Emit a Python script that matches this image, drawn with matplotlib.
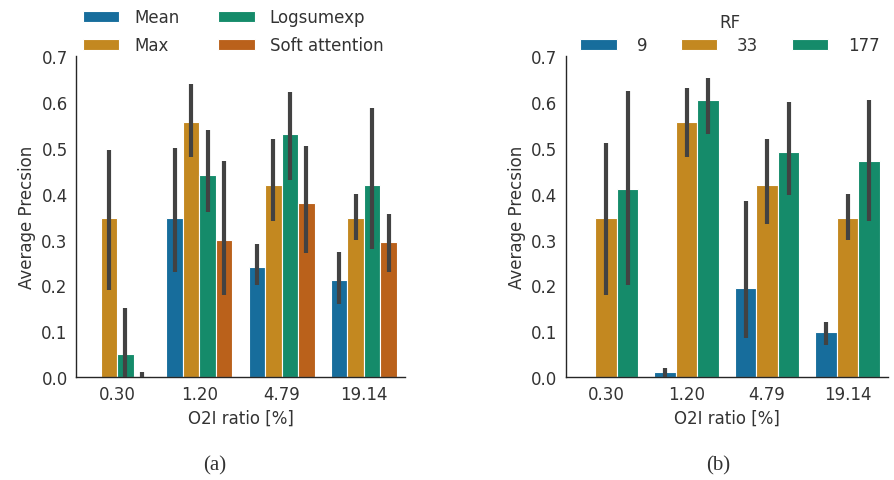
import colorsys
import numpy as np
import matplotlib
matplotlib.use("Agg")
import matplotlib.pyplot as plt
from matplotlib.colors import to_rgb

ratios = ["0.30", "1.20", "4.79", "19.14"]

# panel (a): pooling method
pool_names = ["Mean", "Max", "Logsumexp", "Soft attention"]
pool_mean = [
    [0.0, 0.348, 0.240, 0.212],
    [0.348, 0.557, 0.418, 0.348],
    [0.050, 0.440, 0.530, 0.420],
    [0.002, 0.300, 0.380, 0.295],
]
pool_lo = [
    [0.0, 0.230, 0.200, 0.160],
    [0.190, 0.480, 0.340, 0.300],
    [0.000, 0.360, 0.430, 0.280],
    [0.000, 0.180, 0.270, 0.230],
]
pool_hi = [
    [0.0, 0.500, 0.290, 0.272],
    [0.495, 0.640, 0.520, 0.400],
    [0.150, 0.540, 0.622, 0.588],
    [0.010, 0.472, 0.505, 0.355],
]

# panel (b): receptive field
rf_names = ["9", "33", "177"]
rf_mean = [
    [0.0, 0.010, 0.195, 0.098],
    [0.348, 0.557, 0.418, 0.348],
    [0.410, 0.605, 0.492, 0.472],
]
rf_lo = [
    [0.0, 0.000, 0.085, 0.070],
    [0.180, 0.480, 0.335, 0.300],
    [0.200, 0.530, 0.398, 0.340],
]
rf_hi = [
    [0.0, 0.020, 0.385, 0.120],
    [0.510, 0.630, 0.520, 0.400],
    [0.625, 0.652, 0.600, 0.605],
]

base_colors = ["#0173B2", "#DE8F05", "#029E73", "#D55E00"]


def desat(c, prop=0.75):
    h, l, s = colorsys.rgb_to_hls(*to_rgb(c))
    return colorsys.hls_to_rgb(h, l, s * prop)


colors = [desat(c) for c in base_colors]
text_col = "#333333"
err_col = "#424242"

plt.rcParams["font.family"] = "DejaVu Sans"
plt.rcParams["text.color"] = text_col
plt.rcParams["axes.labelcolor"] = text_col
plt.rcParams["xtick.color"] = text_col
plt.rcParams["ytick.color"] = text_col


def draw_bars(ax, names, means, lo, hi):
    n = len(names)
    w = 0.8 / n
    x = np.arange(len(ratios))
    for i, name in enumerate(names):
        pos = x - 0.4 + w * (i + 0.5)
        ax.bar(pos, means[i], width=w, color=colors[i], edgecolor="white",
               linewidth=0.8, label=name)
        ax.vlines(pos, lo[i], hi[i], color=err_col, linewidth=3.0, zorder=3)
    ax.set_xticks(x)
    ax.set_xticklabels(ratios)
    ax.set_xlim(-0.5, len(ratios) - 0.5)
    ax.set_ylim(0, 0.7)
    ax.set_yticks(np.arange(0, 0.71, 0.1))
    ax.set_yticklabels(["%.1f" % v for v in np.arange(0, 0.71, 0.1)])
    ax.tick_params(length=0, labelsize=12, pad=6)
    ax.set_xlabel("O2I ratio [%]", fontsize=12)
    ax.set_ylabel("Average Precsion", fontsize=12)
    for s in ["top", "right"]:
        ax.spines[s].set_visible(False)
    for s in ["left", "bottom"]:
        ax.spines[s].set_color("#262626")
        ax.spines[s].set_linewidth(1.0)


fig = plt.figure(figsize=(8.94, 4.81), dpi=100)
ax1 = fig.add_axes([0.085, 0.214, 0.368, 0.667])
ax2 = fig.add_axes([0.633, 0.214, 0.360, 0.667])

draw_bars(ax1, pool_names, pool_mean, pool_lo, pool_hi)
draw_bars(ax2, rf_names, rf_mean, rf_lo, rf_hi)

ax1.legend(loc="lower left", bbox_to_anchor=(-0.01, 0.975), ncol=2, frameon=False,
           fontsize=12, handlelength=2.2, handleheight=0.7, handletextpad=0.9,
           columnspacing=2.3, labelspacing=0.6, borderpad=0.1)
ax2.legend(loc="lower center", bbox_to_anchor=(0.51, 0.975), ncol=3, frameon=False,
           fontsize=12, title="RF", title_fontsize=12, handlelength=2.2,
           handleheight=0.7, handletextpad=1.2, columnspacing=2.0,
           labelspacing=0.3, borderpad=0.1)

fig.text(0.240, 0.022, "(a)", family="Liberation Serif", fontsize=15, ha="center")
fig.text(0.803, 0.022, "(b)", family="Liberation Serif", fontsize=15, ha="center")

fig.savefig("out.png", dpi=100)
